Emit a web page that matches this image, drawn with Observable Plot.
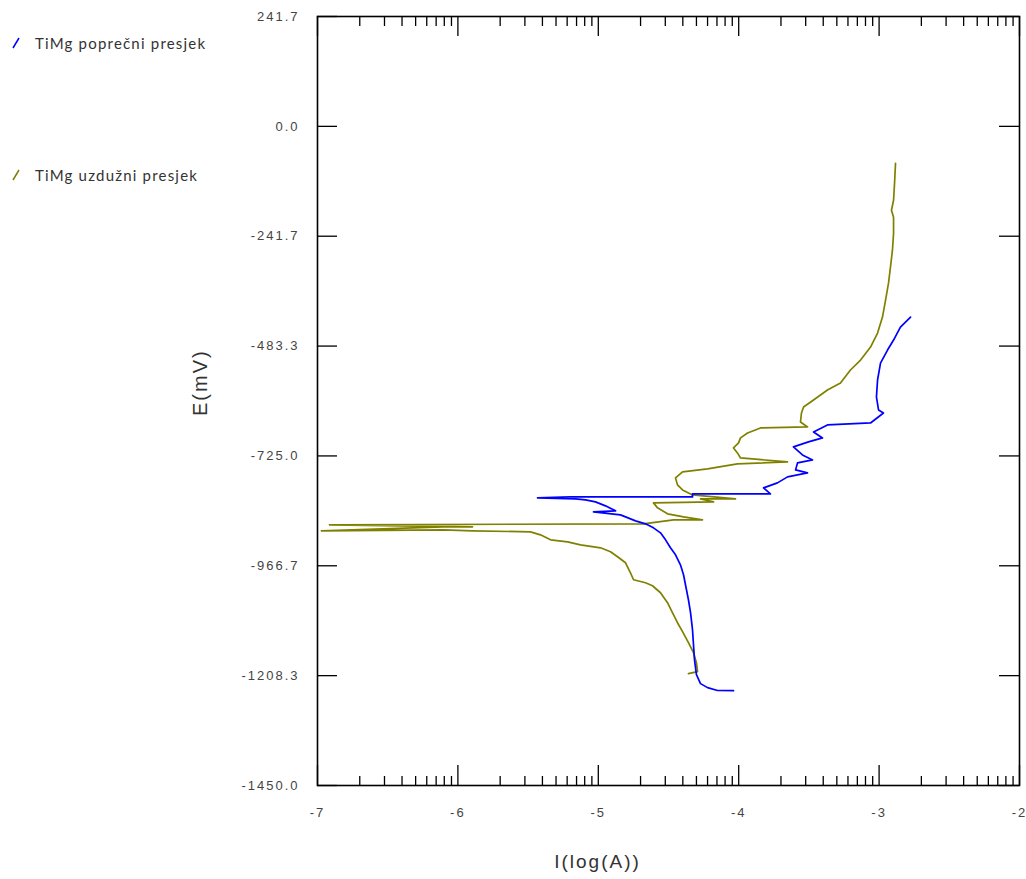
<!DOCTYPE html>
<html>
<head>
<meta charset="utf-8">
<script src="https://cdn.jsdelivr.net/npm/d3@7"></script>
<script src="https://cdn.jsdelivr.net/npm/@observablehq/plot@0.6"></script>
<style>
  html, body { margin: 0; padding: 0; background: #fff; }
  #wrap { position: relative; width: 1026px; height: 879px; }
  .leg { position: absolute; font-family: Lato, "Open Sans", sans-serif; font-size: 15px; line-height: 15px; color: #333; letter-spacing: 1.2px; white-space: nowrap; }
  .leg svg { position: absolute; left: -23px; top: 0px; }
  [aria-label="x-axis tick label"] text, [aria-label="y-axis tick label"] text { letter-spacing: 2px; }
  .axis-title text { letter-spacing: 2px; }
</style>
</head>
<body>
<div id="wrap"></div>
<script>
// Series: TiMg poprečni presjek (blue), log10 current vs potential (mV)
const poprecniLogI = [-4.037,-4.151,-4.222,-4.272,-4.301,-4.315,-4.322,-4.329,-4.343,-4.358,-4.372,-4.393,-4.415,-4.450,-4.486,-4.521,-4.557,-4.607,-4.664,-4.735,-4.806,-4.842,-5.034,-4.877,-4.949,-5.020,-5.091,-5.162,-5.433,-5.198,-4.984,-4.329,-4.329,-3.774,-3.823,-3.724,-3.652,-3.510,-3.595,-3.581,-3.474,-3.546,-3.610,-3.503,-3.403,-3.467,-3.368,-3.061,-2.969,-3.004,-3.019,-3.011,-2.990,-2.940,-2.897,-2.848,-2.776];
const poprecniE = [-1241.3,-1241.0,-1234.7,-1225.9,-1206.1,-1173.2,-1140.2,-1107.3,-1069.9,-1041.4,-1019.4,-986.4,-964.5,-942.5,-927.1,-909.6,-894.2,-883.2,-874.4,-867.8,-859.0,-854.6,-848.0,-845.8,-834.8,-826.1,-821.7,-819.5,-817.3,-815.1,-815.1,-815.1,-808.5,-808.5,-795.3,-784.3,-771.1,-762.3,-755.7,-740.4,-733.8,-722.8,-705.2,-694.2,-685.4,-672.2,-656.9,-652.5,-630.5,-623.9,-595.3,-558.0,-520.7,-492.1,-470.1,-441.6,-419.6];

// Series: TiMg uzdužni presjek (olive)
const uzduzniLogI = [-4.358,-4.293,-4.301,-4.322,-4.358,-4.400,-4.436,-4.472,-4.507,-4.557,-4.614,-4.664,-4.749,-4.771,-4.806,-4.863,-4.913,-4.984,-5.127,-5.219,-5.340,-5.412,-5.483,-5.896,-6.103,-6.972,-6.103,-5.896,-6.915,-4.678,-4.464,-4.258,-4.393,-4.507,-4.578,-4.607,-4.179,-4.272,-4.023,-4.329,-4.400,-4.436,-4.450,-4.400,-4.222,-4.009,-3.652,-3.987,-4.009,-4.037,-4.001,-3.987,-3.937,-3.845,-3.510,-3.560,-3.553,-3.538,-3.467,-3.368,-3.275,-3.204,-3.132,-3.061,-3.011,-2.976,-2.954,-2.933,-2.919,-2.905,-2.897,-2.897,-2.912,-2.897,-2.890,-2.883];
const uzduzniE = [-1203.9,-1199.6,-1179.8,-1157.8,-1135.8,-1111.7,-1091.9,-1069.9,-1047.9,-1026.0,-1010.6,-1004.0,-997.4,-982.0,-960.1,-946.9,-935.9,-927.1,-920.5,-913.9,-909.6,-898.6,-892.0,-889.8,-887.6,-889.8,-881.0,-881.0,-876.6,-874.4,-865.6,-865.6,-859.0,-852.4,-839.2,-828.2,-826.1,-819.5,-819.5,-810.7,-799.7,-788.7,-773.3,-760.1,-753.5,-742.5,-738.2,-729.4,-718.4,-707.4,-696.4,-685.4,-674.5,-663.5,-661.3,-650.3,-630.5,-617.3,-601.9,-580.0,-564.6,-536.0,-514.1,-485.5,-454.7,-419.6,-382.3,-344.9,-309.8,-272.4,-235.1,-199.9,-184.6,-162.6,-125.2,-81.3];

// Axis ticks and labels
const xMajorTicks = [-7, -6, -5, -4, -3, -2];
const xMinorMultipliers = [2, 3, 4, 5, 6, 7, 8, 9];
const yTicks = [241.667, 0, -241.667, -483.333, -725, -966.667, -1208.333, -1450];
const xDomain = [-7, -2];
const yDomain = [-1450, 241.667];
const seriesNames = ["TiMg poprečni presjek", "TiMg uzdužni presjek"];
const seriesColors = ["#0000ff", "#808000"];
const xTitle = "I(log(A))";
const yTitle = "E(mV)";

const poprecni = poprecniLogI.map((x, i) => ({x, y: poprecniE[i]}));
const uzduzni = uzduzniLogI.map((x, i) => ({x, y: uzduzniE[i]}));
const xMinorTicks = [];
for (const d of xMajorTicks.slice(0, -1)) for (const m of xMinorMultipliers) xMinorTicks.push(d + Math.log10(m));

const yMin = yDomain[0], yMax = yDomain[1], xMin = xDomain[0], xMax = xDomain[1];

const chart = Plot.plot({
  width: 1026,
  height: 879,
  marginLeft: 317,
  marginRight: 7,
  marginTop: 16,
  marginBottom: 94,
  x: {domain: xDomain},
  y: {domain: yDomain},
  style: {fontFamily: "'Liberation Sans', Arial, sans-serif", background: "white", color: "#333"},
  marks: [
    Plot.line(uzduzni, {x: "x", y: "y", stroke: seriesColors[1], strokeWidth: 1.7, curve: "linear"}),
    Plot.line(poprecni, {x: "x", y: "y", stroke: seriesColors[0], strokeWidth: 1.7, curve: "linear"}),
    // inward ticks: bottom
    Plot.ruleX(xMajorTicks, {x: d => d, y1: yMin, y2: yMin, insetTop: -20, stroke: "black", strokeWidth: 1.3}),
    Plot.ruleX(xMinorTicks, {x: d => d, y1: yMin, y2: yMin, insetTop: -9, stroke: "black", strokeWidth: 1.3}),
    // inward ticks: top
    Plot.ruleX(xMajorTicks, {x: d => d, y1: yMax, y2: yMax, insetBottom: -20, stroke: "black", strokeWidth: 1.3}),
    Plot.ruleX(xMinorTicks, {x: d => d, y1: yMax, y2: yMax, insetBottom: -10, stroke: "black", strokeWidth: 1.3}),
    // inward ticks: left and right
    Plot.ruleY(yTicks, {y: d => d, x1: xMin, x2: xMin, insetRight: -20, stroke: "black", strokeWidth: 1.3}),
    Plot.ruleY(yTicks, {y: d => d, x1: xMax, x2: xMax, insetLeft: -20, stroke: "black", strokeWidth: 1.3}),
    Plot.frame({stroke: "black", strokeWidth: 1.6}),
    Plot.axisX({ticks: xMajorTicks, tickSize: 0, tickPadding: 22, tickFormat: d => String(d), fontSize: 13, label: null, fill: "#444"}),
    Plot.axisY({ticks: yTicks, tickSize: 0, tickPadding: 18, tickFormat: d => d.toFixed(1), fontSize: 13, label: null, fill: "#444"}),
    Plot.text([yTitle], {text: d => d, frameAnchor: "left", dx: -117, dy: 15, rotate: -90, fontSize: 20, fill: "#333", className: "axis-title"}),
    Plot.text([xTitle], {text: d => d, frameAnchor: "bottom", dx: -71, dy: 82, fontSize: 19, fill: "#333", className: "axis-title"})
  ]
});

const wrap = document.getElementById("wrap");
wrap.appendChild(chart);

const legendTops = [36, 168];
seriesNames.forEach((name, i) => {
  const div = document.createElement("div");
  div.className = "leg";
  div.style.left = "35px";
  div.style.top = legendTops[i] + "px";
  div.innerHTML = `<svg width="10" height="14"><line x1="1" y1="12" x2="7" y2="2" stroke="${seriesColors[i]}" stroke-width="1.5"/></svg>` + name;
  wrap.appendChild(div);
});
</script>
</body>
</html>
